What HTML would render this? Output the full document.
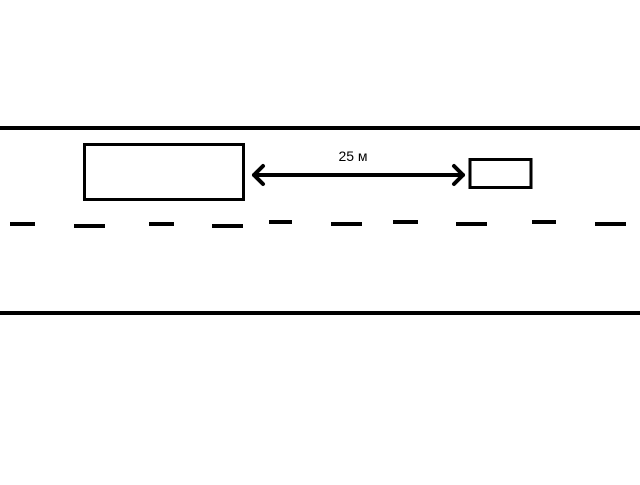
<!DOCTYPE html>
<html><head><style>body{margin:0;background:#fff}</style></head><body>
<svg width="640" height="480" xmlns="http://www.w3.org/2000/svg">
<rect width="640" height="480" fill="#fff"/>
<line x1="0" y1="128" x2="640" y2="128" stroke="#000" stroke-width="4"/>
<line x1="0" y1="313" x2="640" y2="313" stroke="#000" stroke-width="4"/>
<rect x="84.5" y="144.5" width="159" height="55" fill="none" stroke="#000" stroke-width="3"/>
<rect x="470" y="159.5" width="61" height="28" fill="none" stroke="#000" stroke-width="3"/>
<g stroke="#000" stroke-width="4" fill="none" stroke-linecap="round" stroke-linejoin="round">
<line x1="254" y1="175" x2="463" y2="175"/>
<polyline points="263,166 254,175 263,184"/>
<polyline points="454,166 463,175 454,184"/>
</g>
<text x="353" y="161" font-family="Liberation Sans, sans-serif" font-size="14" text-anchor="middle">25 м</text>
<g fill="#000">
<rect x="10" y="222" width="25" height="4"/>
<rect x="74" y="224" width="31" height="4"/>
<rect x="149" y="222" width="25" height="4"/>
<rect x="212" y="224" width="31" height="4"/>
<rect x="269" y="220" width="23" height="4"/>
<rect x="331" y="222" width="31" height="4"/>
<rect x="393" y="220" width="25" height="4"/>
<rect x="456" y="222" width="31" height="4"/>
<rect x="532" y="220" width="24" height="4"/>
<rect x="595" y="222" width="31" height="4"/>
</g>
</svg>
</body></html>
